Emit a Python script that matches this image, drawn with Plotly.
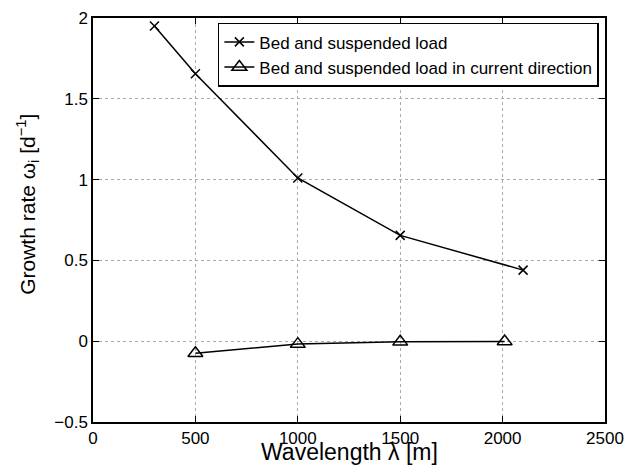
import plotly.graph_objects as go

wl_bed = [300, 500, 1000, 1500, 2100]
rate_bed = [1.95, 1.655, 1.01, 0.655, 0.44]
wl_cur = [500, 1000, 1500, 2010]
rate_cur = [-0.075, -0.018, -0.004, -0.002]

x_ticks = [0, 500, 1000, 1500, 2000, 2500]
y_ticks = [-0.5, 0, 0.5, 1, 1.5, 2]
y_ticklabels = ["\u22120.5", "0", "0.5", "1", "1.5", "2"]

x_title = "Wavelength \u03bb [m]"
y_title = "Growth rate \u03c9<sub>i</sub> [d<sup>\u22121</sup>]"

fig = go.Figure()
fig.add_trace(go.Scatter(x=wl_bed, y=rate_bed, mode="lines+markers",
                         name="Bed and suspended load",
                         line=dict(color="black", width=1.5),
                         marker=dict(symbol="x-thin-open", size=9, color="black",
                                     line=dict(color="black", width=1.5))))
fig.add_trace(go.Scatter(x=wl_cur, y=rate_cur, mode="lines+markers",
                         name="Bed and suspended load in current direction",
                         line=dict(color="black", width=1.5),
                         marker=dict(symbol="triangle-up-open", size=13, color="black",
                                     line=dict(color="black", width=1.5))))

axis_common = dict(showline=True, linecolor="black", linewidth=1.5, mirror="ticks",
                   ticks="inside", ticklen=6, tickcolor="black",
                   showgrid=True, gridcolor="#aaaaaa", griddash="dot", gridwidth=1,
                   zeroline=False, tickfont=dict(size=17, color="black"),
                   automargin=False)

fig.update_xaxes(range=[0, 2500], tickvals=x_ticks, ticktext=[str(v) for v in x_ticks],
                 ticklabelstandoff=0, **axis_common)
fig.update_yaxes(range=[-0.5, 2], tickvals=y_ticks, ticktext=y_ticklabels,
                 **axis_common)

fig.add_annotation(text=x_title, xref="paper", yref="paper", x=0.5, y=-0.074,
                   xanchor="center", yanchor="middle", showarrow=False,
                   font=dict(size=23, color="black"))
fig.add_annotation(text=y_title, xref="paper", yref="paper", x=-0.127, y=0.54,
                   xanchor="center", yanchor="middle", showarrow=False, textangle=-90,
                   font=dict(size=21, color="black"))

fig.update_layout(width=625, height=465,
                  margin=dict(l=93, r=20, t=18, b=43),
                  paper_bgcolor="white", plot_bgcolor="white",
                  font=dict(family="Liberation Sans, Arial, sans-serif", color="black"),
                  legend=dict(x=0.988, y=0.988, xanchor="right", yanchor="top",
                              bgcolor="white", bordercolor="black", borderwidth=1.5,
                              font=dict(size=17, color="black"),
                              tracegroupgap=0, itemwidth=30))

fig.write_html("out.html")
